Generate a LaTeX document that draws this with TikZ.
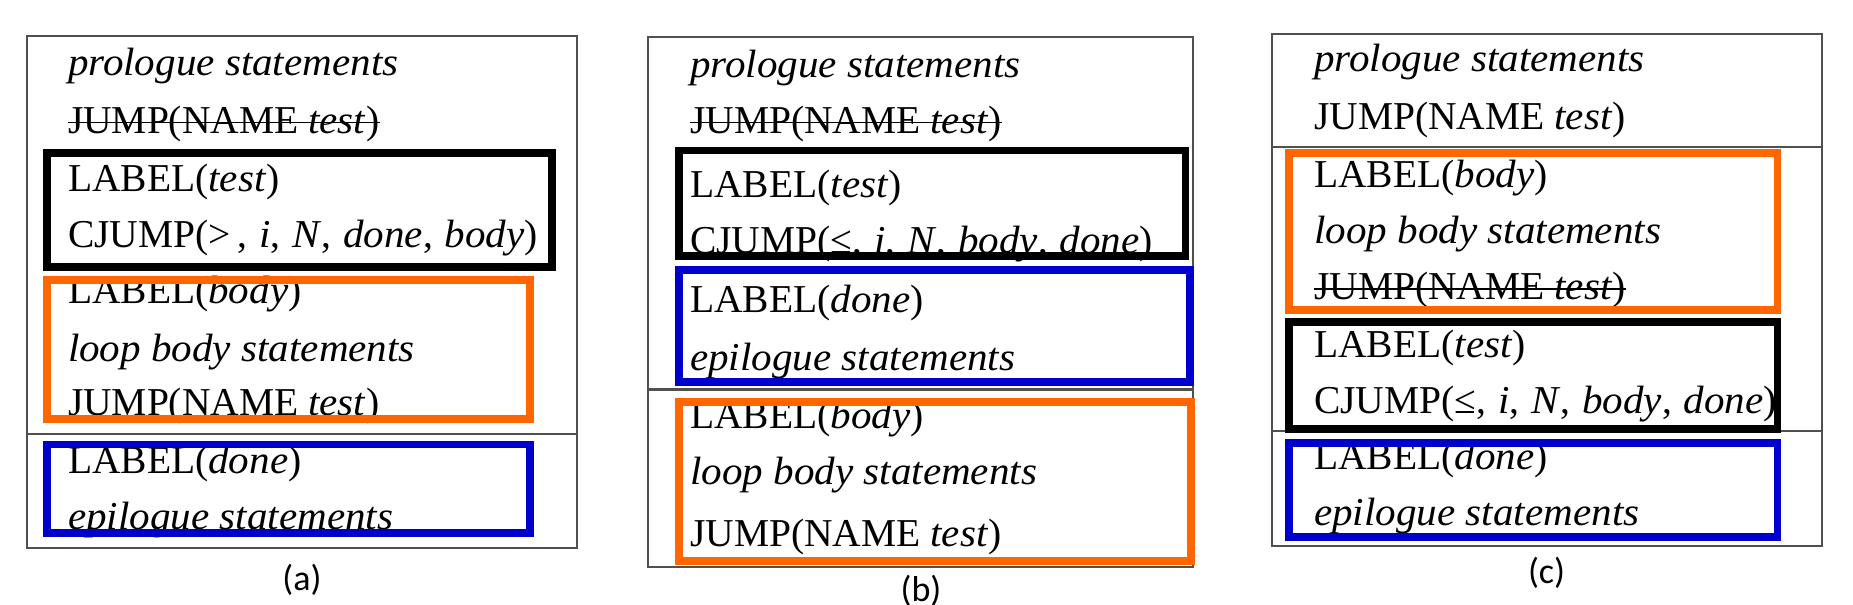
\documentclass[tikz,border=0pt]{standalone}
\usepackage{fontspec}
\setmainfont{Liberation Serif}[ItalicFeatures={FakeStretch=1.04}]
\newfontfamily\lblfont{Carlito}
\definecolor{boxorange}{HTML}{FF6600}
\definecolor{boxblue}{HTML}{0000CC}
\definecolor{framegray}{HTML}{505050}
\newcommand\csep{,\hspace{0.3em}}
\begin{document}
\begin{tikzpicture}[x=1pt,y=-1pt,
  code/.style={anchor=base west,inner sep=0pt,font=\fontsize{39.5}{46}\selectfont},
  sublabel/.style={anchor=base,inner sep=0pt,font=\lblfont\fontsize{36}{40}\selectfont},
  frm/.style={draw=framegray,line width=2pt},
  divline/.style={draw=framegray,line width=2pt},
  strk/.style={line width=1.8pt},
  hl/.style={line width=7.7pt},
]
\useasboundingbox (0,0) rectangle (1853,605);

% ---------------- (a)
\draw[frm] (27,36) rectangle (577,548);
\draw[divline] (27,434) -- (577,434);
\node[code] (a1) at (67.8,75) {\textit{prologue statements}};
\node[code] (a2) at (67.8,133) {JUMP(NAME \textit{test})};
\draw[strk] ([yshift=10.5pt]a2.base west) -- ([yshift=10.5pt]a2.base east);
\node[code] (a3) at (67.8,191) {LABEL(\textit{test})};
\node[code] (a4) at (67.8,247) {CJUMP(>\,\csep\textit{i}\csep\textit{N}\csep\textit{done}\csep\textit{body})};
\node[code] (a5) at (67.8,303) {LABEL(\textit{body})};
\node[code] (a6) at (67.8,361) {\textit{loop body statements}};
\node[code] (a7) at (67.8,415) {JUMP(NAME \textit{test})};
\node[code] (a8) at (67.8,473) {LABEL(\textit{done})};
\node[code] (a9) at (67.8,529) {\textit{epilogue statements}};
\draw[hl] (47,153) rectangle (552,266.7);
\draw[hl,boxorange] (47,280.3) rectangle (530,419);
\draw[hl,boxblue] (47,444.5) rectangle (530,532.7);
\node[sublabel] (la) at (302,590) {(a)};

% ---------------- (b)
\draw[frm] (648.4,37.3) rectangle (1193.3,566.7);
\draw[divline,line width=3pt] (648.4,389.5) -- (1193.3,389.5);
\node[code] (b1) at (690,77.2) {\textit{prologue statements}};
\node[code] (b2) at (690,133) {JUMP(NAME \textit{test})};
\draw[strk] ([yshift=10.5pt]b2.base west) -- ([yshift=10.5pt]b2.base east);
\node[code] (b3) at (690,197) {LABEL(\textit{test})};
\node[code] (b4) at (690,253) {CJUMP(≤\csep\textit{i}\csep\textit{N}\csep\textit{body}\csep\textit{done})};
\node[code] (b5) at (690,312.7) {LABEL(\textit{done})};
\node[code] (b6) at (690,370.7) {\textit{epilogue statements}};
\node[code] (b7) at (690,428.6) {LABEL(\textit{body})};
\node[code] (b8) at (690,484.6) {\textit{loop body statements}};
\node[code] (b9) at (690,546.3) {JUMP(NAME \textit{test})};
\draw[hl] (679,150.5) rectangle (1185.5,256.3);
\draw[hl,boxblue] (679,269.7) rectangle (1190.3,382);
\draw[hl,boxorange] (679,402) rectangle (1191,561);
\node[sublabel] (lb) at (921,601) {(b)};

% ---------------- (c)
\draw[frm] (1272.4,34) rectangle (1821.7,546.3);
\draw[divline] (1272.4,147.3) -- (1821.7,147.3);
\draw[divline] (1272.4,430.7) -- (1821.7,430.7);
\node[code] (c1) at (1314,71.4) {\textit{prologue statements}};
\node[code] (c2) at (1314,129.3) {JUMP(NAME \textit{test})};
\node[code] (c3) at (1314,187.3) {LABEL(\textit{body})};
\node[code] (c4) at (1314,243.2) {\textit{loop body statements}};
\node[code] (c5) at (1314,299.2) {JUMP(NAME \textit{test})};
\draw[strk] ([yshift=10.5pt]c5.base west) -- ([yshift=10.5pt]c5.base east);
\node[code] (c6) at (1314,357.1) {LABEL(\textit{test})};
\node[code] (c7) at (1314,413.1) {CJUMP(≤\csep\textit{i}\csep\textit{N}\csep\textit{body}\csep\textit{done})};
\node[code] (c8) at (1314,469.1) {LABEL(\textit{done})};
\node[code] (c9) at (1314,525.1) {\textit{epilogue statements}};
\draw[hl,boxorange] (1288.7,153) rectangle (1777.5,309.7);
\draw[hl] (1288.7,322.2) rectangle (1777.5,429.2);
\draw[hl,boxblue] (1288.7,443) rectangle (1777.5,536.7);
\node[sublabel] (lc) at (1546.6,583) {(c)};
\end{tikzpicture}
\end{document}
